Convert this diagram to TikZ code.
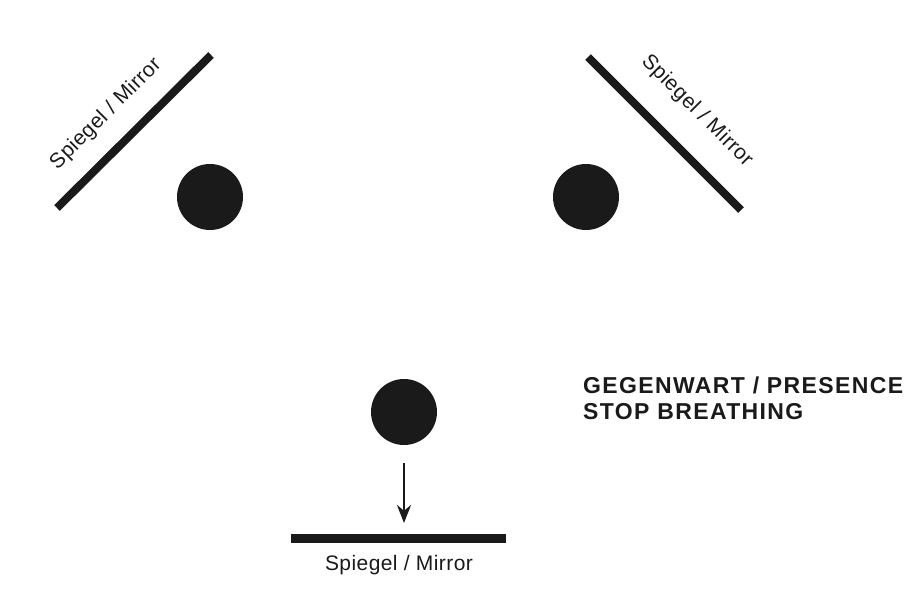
\documentclass[tikz,border=0pt]{standalone}
\usepackage{fontspec}
\setmainfont{Liberation Sans}
\usetikzlibrary{arrows.meta}
\definecolor{ink}{HTML}{1A1A1A}
\tikzset{
  person/.style={circle,fill=ink,minimum size=66pt,inner sep=0pt},
  mirror/.style={line width=8pt,draw=ink},
  mlabel/.style={font=\fontsize{21}{24}\selectfont\addfontfeatures{LetterSpace=2},text=ink,inner sep=0pt},
  title/.style={font=\bfseries\fontsize{23}{26}\selectfont\addfontfeatures{LetterSpace=6},text=ink,align=left,anchor=west,inner sep=0pt},
  dirarrow/.style={line width=2.8pt,draw=ink,-{Stealth[length=18pt,width=14pt]}}
}
\begin{document}
\begin{tikzpicture}[x=1pt,y=-1pt]
\useasboundingbox (0,0) rectangle (911,596);
% left
\coordinate (l1) at (57,208);
\coordinate (l2) at (211,55);
\draw[mirror] (l1) -- (l2);
\node[mlabel,rotate=45] (lt) at (106,114) {Spiegel / Mirror};
\node[person] (p1) at (210,197) {};
% right
\coordinate (r1) at (588,57);
\coordinate (r2) at (741,210);
\draw[mirror] (r1) -- (r2);
\node[mlabel,rotate=-45] (rt) at (697,111) {Spiegel / Mirror};
\node[person] (p2) at (586,197) {};
% bottom
\node[person] (p3) at (404,412) {};
\coordinate (a1) at (404,463);
\coordinate (a2) at (404,523);
\draw[dirarrow] (a1) -- (a2);
\coordinate (b1) at (291,538);
\coordinate (b2) at (506,538);
\draw[mirror,line width=9pt] (b1) -- (b2);
\node[mlabel] (bt) at (399,565) {Spiegel / Mirror};
% title
\node[title] (tt) at (583,398) {GEGENWART / PRESENCE\\STOP BREATHING};
\end{tikzpicture}
\end{document}
